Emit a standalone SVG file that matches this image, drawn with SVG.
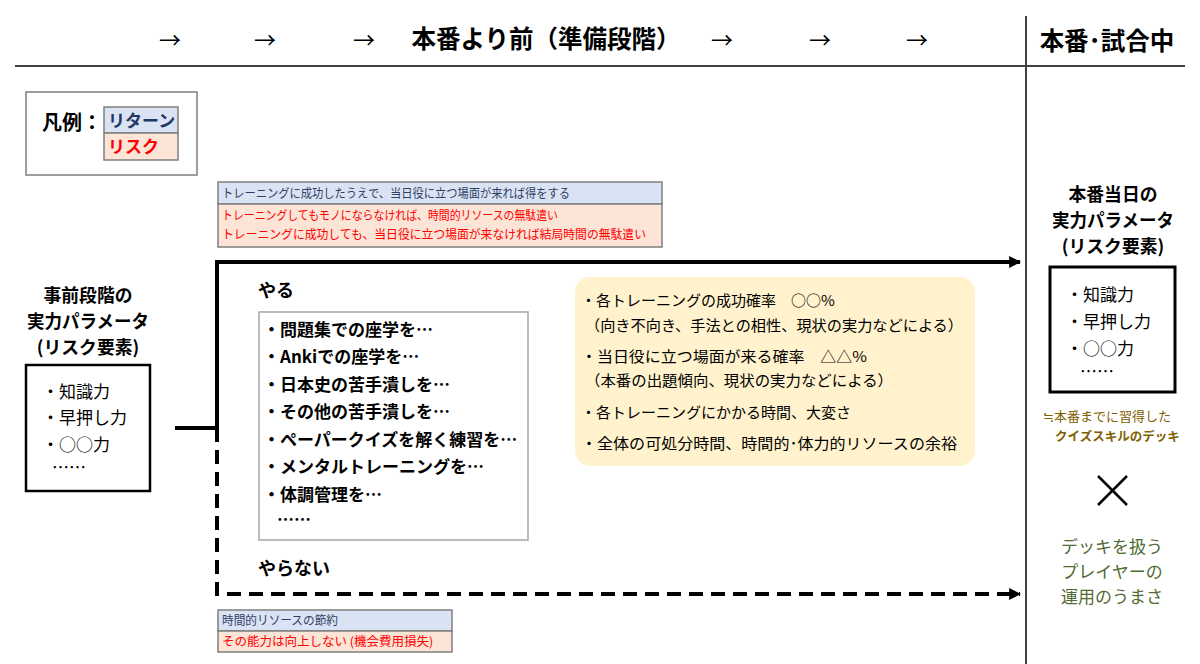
<svg xmlns="http://www.w3.org/2000/svg" width="1200" height="664" viewBox="0 0 1200 664">
<style>
text{font-family:"Noto Sans CJK JP","Noto Sans",sans-serif;}
.b{font-weight:bold;}
.h{font-size:24.5px;font-weight:bold;fill:#000;}
.arr{font-size:22px;fill:#000;}
.lbl{font-size:17.8px;font-weight:bold;fill:#000;}
.par{font-size:17px;fill:#000;}
.item{font-size:17px;font-weight:bold;fill:#000;}
.y{font-size:15px;fill:#000;}
.ret{fill:#dae3f3;stroke:#7f7f7f;stroke-width:1.5;}
.risk{fill:#fce4d6;stroke:#7f7f7f;stroke-width:1.5;}
.rt{font-size:12.5px;fill:#2f3f66;}
.rk{font-size:12.5px;fill:#ff0000;}
.conn{fill:none;stroke:#000;stroke-width:4;}
</style>
<defs>
<marker id="ah" viewBox="0 0 10 10" refX="9" refY="5" markerWidth="3" markerHeight="3" orient="auto" markerUnits="strokeWidth">
<path d="M0,0 L10,5 L0,10 z" fill="#000"/>
</marker>
</defs>
<rect width="1200" height="664" fill="#fff"/>
<g id="header">
<text class="arr" x="170" y="48" text-anchor="middle">→</text>
<text class="arr" x="265" y="48" text-anchor="middle">→</text>
<text class="arr" x="364" y="48" text-anchor="middle">→</text>
<text class="h" x="546" y="48" text-anchor="middle">本番より前（準備段階）</text>
<text class="arr" x="722" y="48" text-anchor="middle">→</text>
<text class="arr" x="820" y="48" text-anchor="middle">→</text>
<text class="arr" x="917" y="48" text-anchor="middle">→</text>
<text class="h" x="1107" y="50" text-anchor="middle">本番･試合中</text>
<line x1="15" y1="66" x2="1185" y2="66" stroke="#404040" stroke-width="2"/>
<line x1="1026" y1="16" x2="1026" y2="664" stroke="#404040" stroke-width="2"/>
</g>
<g id="legend">
<rect x="26" y="92" width="171" height="83" fill="#fff" stroke="#7f7f7f" stroke-width="1.5"/>
<text class="b" x="42" y="130" style="font-size:20px" fill="#000">凡例：</text>
<rect class="ret" x="104" y="107" width="74" height="26"/>
<text class="b" x="108" y="127" font-size="17" fill="#1f3864">リターン</text>
<rect class="risk" x="104" y="133" width="74" height="27"/>
<text class="b" x="108" y="153" font-size="17" fill="#ff0000">リスク</text>
</g>
<g id="do-annotation">
<rect class="ret" x="218" y="182" width="444" height="22"/>
<text class="rt" x="222" y="198" textLength="348" lengthAdjust="spacingAndGlyphs">トレーニングに成功したうえで、当日役に立つ場面が来れば得をする</text>
<rect class="risk" x="218" y="204" width="444" height="43"/>
<text class="rk" x="222" y="220" textLength="336" lengthAdjust="spacingAndGlyphs">トレーニングしてもモノにならなければ、時間的リソースの無駄遣い</text>
<text class="rk" x="222" y="239" textLength="424" lengthAdjust="spacingAndGlyphs">トレーニングに成功しても、当日役に立つ場面が来なければ結局時間の無駄遣い</text>
</g>
<g id="connectors">
<path class="conn" d="M175,428 H217 V262 H1020" marker-end="url(#ah)"/>
<path class="conn" d="M217,428 V594 H1020" stroke-dasharray="14,8" marker-end="url(#ah)"/>
</g>
<g id="pre-params">
<text class="lbl" x="88" y="302" text-anchor="middle">事前段階の</text>
<text class="lbl" x="27" y="328" textLength="122" lengthAdjust="spacingAndGlyphs">実力パラメータ</text>
<text class="lbl" x="88" y="354" text-anchor="middle">(リスク要素)</text>
<rect x="26" y="365" width="124" height="126" fill="#fff" stroke="#000" stroke-width="2.5"/>
<text class="par" x="42" y="398">・知識力</text>
<text class="par" x="42" y="424">・早押し力</text>
<text class="par" x="42" y="451">・○○力</text>
<text class="par" x="52" y="474">……</text>
</g>
<g id="do-label"><text class="b" x="258" y="297" style="font-size:18px" fill="#000">やる</text></g>
<g id="training-list">
<rect x="259" y="312" width="269" height="228" fill="#fff" stroke="#a6a6a6" stroke-width="1.5"/>
<text class="item" x="263" y="336">・問題集での座学を…</text>
<text class="item" x="263" y="363">・Ankiでの座学を…</text>
<text class="item" x="263" y="391">・日本史の苦手潰しを…</text>
<text class="item" x="263" y="418">・その他の苦手潰しを…</text>
<text class="item" x="263" y="446">・ペーパークイズを解く練習を…</text>
<text class="item" x="263" y="473">・メンタルトレーニングを…</text>
<text class="item" x="263" y="501">・体調管理を…</text>
<text class="item" x="277" y="526">……</text>
</g>
<g id="factors">
<rect x="575" y="277" width="400" height="189" rx="15" fill="#fff2cc"/>
<text class="y" x="581" y="306">・各トレーニングの成功確率　○○%</text>
<text class="y" x="585" y="331" textLength="378" lengthAdjust="spacingAndGlyphs">（向き不向き、手法との相性、現状の実力などによる）</text>
<text class="y" x="581" y="362" textLength="286" lengthAdjust="spacingAndGlyphs">・当日役に立つ場面が来る確率　△△%</text>
<text class="y" x="585" y="386" textLength="308" lengthAdjust="spacingAndGlyphs">（本番の出題傾向、現状の実力などによる）</text>
<text class="y" x="581" y="418">・各トレーニングにかかる時間、大変さ</text>
<text class="y" x="581" y="449" textLength="376" lengthAdjust="spacingAndGlyphs">・全体の可処分時間、時間的･体力的リソースの余裕</text>
</g>
<g id="not-do-label"><text class="b" x="258" y="575" style="font-size:18px" fill="#000">やらない</text></g>
<g id="not-do-annotation">
<rect class="ret" x="218" y="610" width="234" height="21"/>
<text class="rt" x="222" y="625" textLength="116" lengthAdjust="spacingAndGlyphs">時間的リソースの節約</text>
<rect class="risk" x="218" y="631" width="234" height="21"/>
<text class="rk" x="222" y="646">その能力は向上しない (機会費用損失)</text>
</g>
<g id="day-params">
<text class="lbl" x="1113" y="201" text-anchor="middle">本番当日の</text>
<text class="lbl" x="1052" y="227" textLength="122" lengthAdjust="spacingAndGlyphs">実力パラメータ</text>
<text class="lbl" x="1113" y="253" text-anchor="middle">(リスク要素)</text>
<rect x="1050" y="267" width="125" height="125" fill="#fff" stroke="#000" stroke-width="3"/>
<text class="par" x="1066" y="301">・知識力</text>
<text class="par" x="1066" y="328">・早押し力</text>
<text class="par" x="1066" y="355">・○○力</text>
<text class="par" x="1080" y="378">……</text>
</g>
<g id="deck">
<text x="1043" y="421" font-size="13" fill="#7f6000">≒本番までに習得した</text>
<text class="b" x="1055" y="441" font-size="12.5" fill="#7f6000">クイズスキルのデッキ</text>
</g>
<g id="times">
<line x1="1098" y1="476" x2="1127" y2="505" stroke="#000" stroke-width="2.5"/>
<line x1="1127" y1="476" x2="1098" y2="505" stroke="#000" stroke-width="2.5"/>
</g>
<g id="player">
<text x="1112" y="553" font-size="17" fill="#4f6b34" text-anchor="middle">デッキを扱う</text>
<text x="1112" y="578" font-size="17" fill="#4f6b34" text-anchor="middle">プレイヤーの</text>
<text x="1112" y="603" font-size="17" fill="#4f6b34" text-anchor="middle">運用のうまさ</text>
</g>
</svg>
